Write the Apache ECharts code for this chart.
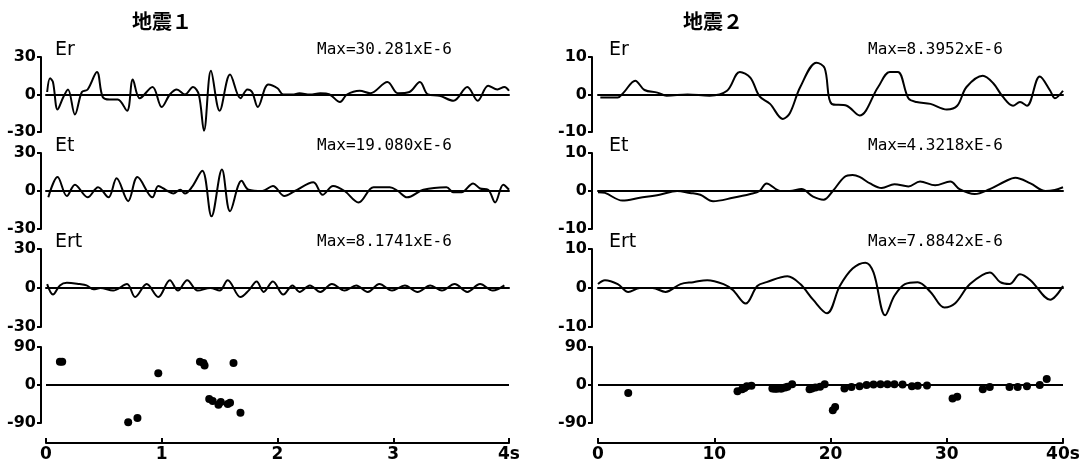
<!DOCTYPE html>
<html>
<head>
<meta charset="utf-8">
<script src="https://cdn.jsdelivr.net/npm/echarts@6/dist/echarts.min.js"></script>
<style>
  html, body { margin: 0; padding: 0; background: #fff; }
  #chart { width: 1088px; height: 465px; }
</style>
</head>
<body>
<div id="chart"></div>
<script>
    // ---------- data: [time, value] ----------
    const quakeTitles = ['地震１', '地震２'];
    const rowNames = ['Er', 'Et', 'Ert'];
    const maxTexts1 = ['Max=30.281xE-6', 'Max=19.080xE-6', 'Max=8.1741xE-6'];
    const maxTexts2 = ['Max=8.3952xE-6', 'Max=4.3218xE-6', 'Max=7.8842xE-6'];
    const timeLabels1 = ['0', '1', '2', '3', '4s'];
    const timeLabels2 = ['0', '10', '20', '30', '40s'];

    const er1 = [
      [0.01, 2], [0.035, 13], [0.06, 10], [0.10, -12], [0.15, -2], [0.19, 4], [0.25, -16], [0.31, 2],
      [0.36, 4], [0.44, 18], [0.49, -2], [0.55, -4], [0.62, -4], [0.70, -13], [0.75, 12], [0.81, -3],
      [0.92, 6], [1.00, -10], [1.07, 0], [1.13, 4], [1.20, 0], [1.27, 6], [1.32, 0], [1.365, -29],
      [1.425, 19], [1.50, -13], [1.59, 16], [1.68, -3], [1.74, 4], [1.78, 2], [1.83, -10], [1.92, 8],
      [2.00, 5], [2.05, 0], [2.13, 0], [2.19, 1], [2.28, 0], [2.37, 1], [2.45, 0], [2.54, -6],
      [2.60, 0], [2.71, 3], [2.80, 1], [2.95, 10], [3.04, 1], [3.14, 2], [3.23, 10], [3.30, 0],
      [3.40, -1], [3.52, -5], [3.64, 6], [3.73, -5], [3.82, 7], [3.90, 4], [3.96, 6], [4.0, 3]
    ];
    const et1 = [
      [0.02, -5], [0.10, 11], [0.18, -4], [0.25, 5], [0.36, -5], [0.45, 3], [0.54, -5], [0.61, 10],
      [0.71, -8], [0.79, 11], [0.92, -5], [0.97, 4], [1.05, 0], [1.10, -2], [1.16, 1], [1.20, -2],
      [1.26, 3], [1.35, 16], [1.43, -20], [1.52, 17], [1.59, -16], [1.69, 8], [1.75, 1], [1.87, 0],
      [1.96, 4], [2.06, -4], [2.15, 0], [2.31, 7], [2.39, -3], [2.48, 4], [2.58, 0], [2.70, -9],
      [2.83, 3], [2.97, 3], [3.04, 0], [3.12, -5], [3.26, 1], [3.46, 3], [3.52, -1], [3.59, -1],
      [3.69, 6], [3.75, 2], [3.82, 1], [3.88, -9], [3.95, 5], [4.0, 1]
    ];
    const ert1 = [
      [0.01, 3], [0.06, -5], [0.12, 2], [0.18, 4], [0.29, 3], [0.35, 2], [0.41, -1], [0.47, 0],
      [0.58, -2], [0.70, 3], [0.77, -7], [0.87, 3], [0.97, -7], [1.07, 6], [1.14, -2], [1.22, 6],
      [1.31, -2], [1.42, 0], [1.50, -2], [1.57, 6], [1.68, -7], [1.75, -2], [1.82, 5], [1.88, -3],
      [1.96, 5], [2.05, -5], [2.13, 2], [2.19, -3], [2.28, 2], [2.37, -3], [2.47, 3], [2.58, -2],
      [2.68, 2], [2.78, -3], [2.88, 3], [2.99, -2], [3.10, 2], [3.21, -3], [3.32, 2], [3.42, -2],
      [3.53, 3], [3.64, -3], [3.75, 3], [3.86, -2], [3.96, 2]
    ];
    const ang1 = [
      [0.12, 55], [0.14, 55], [0.71, -88], [0.79, -78], [0.97, 28], [1.33, 55], [1.36, 52], [1.37, 46],
      [1.41, -33], [1.44, -38], [1.49, -47], [1.51, -40], [1.57, -45], [1.59, -42], [1.62, 52], [1.68, -66]
    ];

    const er2 = [
      [0.2, -0.8], [1.7, -0.8], [2.2, 0.5], [3.2, 3.7], [4.0, 1.2], [5.1, 0.5], [5.9, -0.3], [7.7, 0],
      [9.6, -0.3], [11.1, 1], [12.2, 6], [13.1, 4.5], [13.9, -0.5], [14.8, -2.5], [15.9, -6.5], [16.5, -5],
      [17.4, 2], [18.8, 8.5], [19.5, 7], [20.1, -2.5], [21.4, -3], [22.5, -5.6], [24.1, 2], [25.1, 6],
      [25.8, 6], [26.7, -1], [27.4, -2], [28.6, -2.5], [30.0, -4], [30.9, -3], [31.7, 2], [33.1, 5],
      [34.0, 3], [34.8, -0.5], [35.7, -3], [36.3, -2], [36.9, -3], [38.0, 4.8], [38.9, 1], [39.3, -1], [40.0, 1]
    ];
    const et2 = [
      [0, -0.3], [0.6, -0.5], [2.1, -2.5], [3.6, -1.8], [5.3, -1], [6.8, 0], [7.9, -0.5], [8.8, -1],
      [9.9, -2.7], [11.6, -1.8], [13.1, -0.8], [13.9, 0], [14.5, 2], [15.7, 0], [16.5, 0], [17.5, 0.5],
      [18.5, -1.5], [19.4, -2.3], [20.2, 0], [21.2, 3.7], [21.9, 4.2], [22.5, 3.7], [23.4, 2], [24.4, 0.8],
      [25.5, 1.8], [26.7, 1.2], [27.7, 2.5], [29.0, 1.5], [30.3, 2.5], [31.1, 0.5], [32.4, -0.8], [33.7, 0.5],
      [35.0, 2.5], [35.9, 3.5], [37.2, 2], [38.5, 0], [39.3, 0.3], [40, 1]
    ];
    const ert2 = [
      [0, 1], [0.6, 2], [1.7, 1], [2.6, -1], [3.6, 0], [4.7, 0], [5.8, -1], [7.1, 1], [8.2, 1.5],
      [9.4, 2], [10.8, 1], [11.6, -0.5], [12.7, -4], [13.7, 0.5], [14.5, 1.5], [16.3, 3], [17.4, 1],
      [18.5, -3], [19.7, -6.5], [20.8, 0.5], [21.9, 5], [23.0, 6.5], [23.7, 4], [24.7, -7], [25.5, -2],
      [26.4, 1], [27.5, 1.5], [28.6, -1], [29.8, -5], [30.7, -4], [32.0, 1], [33.7, 4], [34.6, 1.5],
      [35.4, 1], [36.3, 3.5], [37.2, 2], [38.9, -3], [40, 0.5]
    ];
    const ang2 = [
      [2.6, -19], [12.0, -15], [12.4, -10], [12.6, -7], [12.8, -3], [13.2, -2], [15.0, -8], [15.2, -9],
      [15.4, -9], [15.7, -8], [15.8, -8], [16.1, -6], [16.3, -4], [16.7, 2], [18.2, -10], [18.4, -8],
      [18.7, -6], [19.1, -4], [19.5, 2], [20.2, -60], [20.4, -52], [21.2, -8], [21.8, -5], [22.5, -3],
      [23.1, 0], [23.7, 1], [24.3, 2], [24.9, 2], [25.5, 2], [26.2, 1], [27.0, -3], [27.5, -2],
      [28.3, -1], [30.5, -32], [30.9, -28], [33.1, -10], [33.7, -5], [35.4, -5], [36.1, -5], [36.3, 93],
      [36.9, -3], [38.0, 0], [38.6, 14]
    ];

    // ---------- layout ----------
    const rows = [
      { top: 57, height: 75 },
      { top: 153, height: 76 },
      { top: 249, height: 78 },
      { top: 347, height: 76 }
    ];
    const cols = [
      { left: 46, width: 463, yOff: 5, xMax: 4, xStep: 1, amp: 30, labels: timeLabels1, maxTexts: maxTexts1,
        waves: [er1, et1, ert1], angles: ang1, titleX: 162, nameX: 55, maxX: 317 },
      { left: 598, width: 465, yOff: 6, xMax: 40, xStep: 10, amp: 10, labels: timeLabels2, maxTexts: maxTexts2,
        waves: [er2, et2, ert2], angles: ang2, titleX: 713, nameX: 609, maxX: 868 }
    ];
    const FONT = "'DejaVu Sans', sans-serif";
    const MONO = "'DejaVu Sans Mono', monospace";
    const black = '#000';

    const grid = [], xAxis = [], yAxis = [], series = [], title = [];

    cols.forEach((c, ci) => {
      title.push({
        text: quakeTitles[ci], left: c.titleX, top: 11, textAlign: 'center', padding: 0,
        textStyle: { fontFamily: "'Noto Sans CJK JP', sans-serif", fontSize: 20, fontWeight: 'bold', color: black }
      });
      rows.forEach((r, ri) => {
        const gi = grid.length;
        const isAngle = ri === 3;
        grid.push({ left: c.left, top: r.top, width: c.width, height: r.height });
        xAxis.push({
          type: 'value', gridIndex: gi, min: 0, max: c.xMax, interval: c.xStep,
          offset: isAngle ? 20 : 0,
          axisLine: { show: true, onZero: !isAngle, lineStyle: { color: black, width: 2 } },
          axisTick: { show: isAngle, inside: true, length: 5, lineStyle: { color: black, width: 2 } },
          axisLabel: {
            show: isAngle, color: black, fontSize: 17, fontWeight: 'bold', fontFamily: FONT, margin: 3,
            formatter: v => c.labels[Math.round(v / c.xStep)]
          },
          splitLine: { show: false }
        });
        const lim = isAngle ? 90 : c.amp;
        yAxis.push({
          type: 'value', gridIndex: gi, min: -lim, max: lim, interval: lim, offset: c.yOff,
          axisLine: { show: true, onZero: false, lineStyle: { color: black, width: 2 } },
          axisTick: { show: true, length: 4, lineStyle: { color: black, width: 2 } },
          axisLabel: { color: black, fontSize: 16, fontWeight: 'bold', fontFamily: FONT, margin: 5 },
          splitLine: { show: false }
        });
        if (isAngle) {
          series.push({
            type: 'scatter', xAxisIndex: gi, yAxisIndex: gi, data: c.angles,
            symbolSize: 8, itemStyle: { color: black, opacity: 1 }, silent: true,
            markLine: {
              silent: true, symbol: 'none', label: { show: false },
              lineStyle: { color: black, width: 2, type: 'solid' },
              data: [{ yAxis: 0 }]
            }
          });
        } else {
          series.push({
            type: 'line', xAxisIndex: gi, yAxisIndex: gi, data: c.waves[ri],
            showSymbol: false, smooth: 0.35, silent: true,
            lineStyle: { color: black, width: 2 }
          });
          title.push({
            text: rowNames[ri], left: c.nameX, top: r.top - 16, padding: 0,
            textStyle: { fontFamily: FONT, fontSize: 19, fontWeight: 'normal', color: black }
          });
          title.push({
            text: c.maxTexts[ri], left: c.maxX, top: r.top - 15, padding: 0,
            textStyle: { fontFamily: MONO, fontSize: 16, fontWeight: 'normal', color: black }
          });
        }
      });
    });

    const chart = echarts.init(document.getElementById('chart'));
    chart.setOption({
      backgroundColor: '#fff',
      animation: false,
      title: title,
      grid: grid,
      xAxis: xAxis,
      yAxis: yAxis,
      series: series
    });
</script>
</body>
</html>
